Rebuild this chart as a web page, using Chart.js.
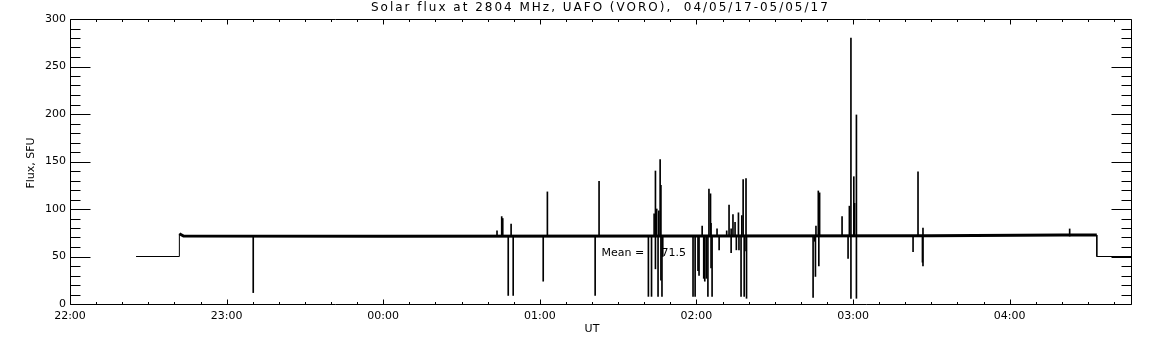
<!DOCTYPE html>
<html><head><meta charset="utf-8">
<script src="https://cdn.jsdelivr.net/npm/chart.js@4.4.0/dist/chart.umd.min.js"></script>
<style>html,body{margin:0;padding:0;background:#fff;}canvas{display:block;}</style>
</head><body>
<canvas id="c" width="1152" height="345"></canvas>
<script>
const TITLE = 'Solar flux at 2804 MHz, UAFO (VORO),  04/05/17-05/05/17';
const X_TITLE = 'UT';
const Y_TITLE = 'Flux, SFU';
const MEAN_LABEL = 'Mean =     71.5';
const MEAN_VALUE = 71.5;

// time axis: minutes since 22:00 UT
const xTickMinutes = [0, 60, 120, 180, 240, 300, 360];
const xTickLabels = ['22:00', '23:00', '00:00', '01:00', '02:00', '03:00', '04:00'];
const yTicks = [0, 50, 100, 150, 200, 250, 300];

// receiver off / calibration level before and after the observation
const preTimes = [25.3, 41.9, 41.9];
const preFlux = [50, 50, 74];
const postTimes = [393.4, 393.4, 406.5];
const postFlux = [72.6, 50, 50];

// quiet-sun level
const baseTimes = [41.9, 43.5, 120, 240, 330, 380, 393.4];
const baseFlux = [74, 71.5, 71.4, 71.5, 71.8, 72.6, 72.6];

// spikes (interference / bursts)
const spikeTimes = [70.2, 163.6, 165.4, 165.8, 167.9, 169.0, 169.8, 181.3, 182.9, 201.2, 202.7,
  221.6, 222.8, 223.8, 224.3, 224.3, 224.8, 225.3, 225.6, 226.1, 226.4, 226.4, 226.8, 227.1,
  238.7, 239.5, 240.6, 241.0, 242.2, 242.8, 243.2, 243.8, 244.4, 244.8, 245.4, 245.6, 245.6, 246.0,
  247.9, 248.7, 251.6, 252.5, 253.3, 253.3, 254.0, 254.8, 255.3, 256.1, 256.3, 257.1, 257.4, 257.9,
  258.3, 258.6, 259.0, 259.2,
  284.7, 285.3, 285.6, 285.8, 286.7, 286.9, 287.2, 295.8, 298.1, 298.6, 299.2, 299.2, 300.3, 300.6,
  301.3, 301.3, 323.0, 324.9, 326.6, 326.8, 326.8, 383.0];
const spikeFlux = [12, 77, 92, 90, 9, 84, 9, 24, 118, 9, 129,
  8, 8, 95, 140, 37, 100, 8, 98, 152, 125, 25, 8, 50,
  8, 8, 35, 30, 82, 27, 24, 27, 8, 121, 116, 85, 38, 8,
  79, 57, 77, 104, 79, 54, 94, 86, 57, 96, 57, 8, 93, 131,
  8, 56, 132, 6,
  7, 66, 29, 82, 119, 40, 117, 92, 48, 103, 280, 6, 134, 106,
  199, 6, 55, 139, 44, 40, 80, 79];

const FONT = '"DejaVu Sans", sans-serif';

const framePlugin = {
  id: 'frame',
  afterDraw(chart) {
    const ctx = chart.ctx;
    const a = chart.chartArea;
    const xs = chart.scales.x, ys = chart.scales.y;
    const L = Math.round(a.left) + 0.5, R = Math.round(a.right) + 0.5;
    const T = Math.round(a.top) + 0.5, B = Math.round(a.bottom) + 0.5;
    ctx.save();
    ctx.strokeStyle = '#000';
    ctx.lineWidth = 1;
    ctx.beginPath();
    ctx.rect(L, T, R - L, B - T);
    for (let v = ys.min; v <= ys.max; v += 10) {
      const y = Math.round(ys.getPixelForValue(v)) + 0.5;
      const len = v % 50 === 0 ? 20 : 10;
      ctx.moveTo(L, y); ctx.lineTo(L + len, y);
      ctx.moveTo(R, y); ctx.lineTo(R - len, y);
    }
    for (let m = 0; m <= xs.max; m += 10) {
      const x = Math.round(xs.getPixelForValue(m)) + 0.5;
      const len = m % 60 === 0 ? 5 : 2.5;
      ctx.moveTo(x, B); ctx.lineTo(x, B - len);
      ctx.moveTo(x, T); ctx.lineTo(x, T + len);
    }
    ctx.stroke();

    ctx.fillStyle = '#000';
    // title: wide plotter-style lettering, centred over the plot
    ctx.font = '12px ' + FONT;
    ctx.textBaseline = 'middle';
    ctx.textAlign = 'left';
    const plain = ctx.measureText(TITLE).width;
    const targetW = 459;
    const ls = (targetW - plain) / TITLE.length;
    ctx.letterSpacing = ls.toFixed(2) + 'px';
    ctx.fillText(TITLE, (a.left + a.right) / 2 - targetW / 2, 8);
    ctx.letterSpacing = '0px';

    ctx.font = '11px ' + FONT;
    ctx.textAlign = 'center';
    ctx.fillText(X_TITLE, 592, 329);
    ctx.save();
    ctx.translate(31, 163);
    ctx.rotate(-Math.PI / 2);
    ctx.fillText(Y_TITLE, 0, 0);
    ctx.restore();
    ctx.textAlign = 'left';
    ctx.fillText(MEAN_LABEL, xs.getPixelForValue(203.6), ys.getPixelForValue(53.2));
    ctx.restore();
  }
};

new Chart(document.getElementById('c'), {
  type: 'line',
  data: {
    datasets: [
      { data: preTimes.map((t, i) => ({ x: t, y: preFlux[i] })), borderColor: '#000', borderWidth: 1 },
      { data: baseTimes.map((t, i) => ({ x: t, y: baseFlux[i] })), borderColor: '#000', borderWidth: 3 },
      { data: postTimes.map((t, i) => ({ x: t, y: postFlux[i] })), borderColor: '#000', borderWidth: 1 },
      { type: 'bar', data: spikeTimes.map((t, i) => ({ x: t, y: [MEAN_VALUE, spikeFlux[i]] })),
        backgroundColor: '#000', borderWidth: 0, barThickness: 1, grouped: false }
    ]
  },
  options: {
    responsive: false,
    animation: false,
    events: [],
    elements: { point: { radius: 0 }, line: { tension: 0, fill: false } },
    layout: { padding: { left: 0, right: 21, top: 19, bottom: 0 } },
    plugins: { legend: { display: false }, tooltip: { enabled: false }, title: { display: false } },
    scales: {
      x: {
        type: 'linear', min: 0, max: 406.5, offset: false,
        grid: { display: false, drawTicks: false }, border: { display: false },
        afterBuildTicks: s => { s.ticks = xTickMinutes.map(v => ({ value: v })); },
        afterFit: s => { s.height = 41; },
        ticks: {
          color: '#000', font: { family: FONT, size: 11 }, padding: 6, maxRotation: 0, autoSkip: false,
          callback: v => xTickLabels[xTickMinutes.indexOf(v)]
        }
      },
      y: {
        type: 'linear', min: 0, max: 300,
        grid: { display: false, drawTicks: false }, border: { display: false },
        afterBuildTicks: s => { s.ticks = yTicks.map(v => ({ value: v })); },
        afterFit: s => { s.width = 70; },
        ticks: { color: '#000', font: { family: FONT, size: 11 }, padding: 4 }
      }
    }
  },
  plugins: [framePlugin]
});
</script>
</body></html>
